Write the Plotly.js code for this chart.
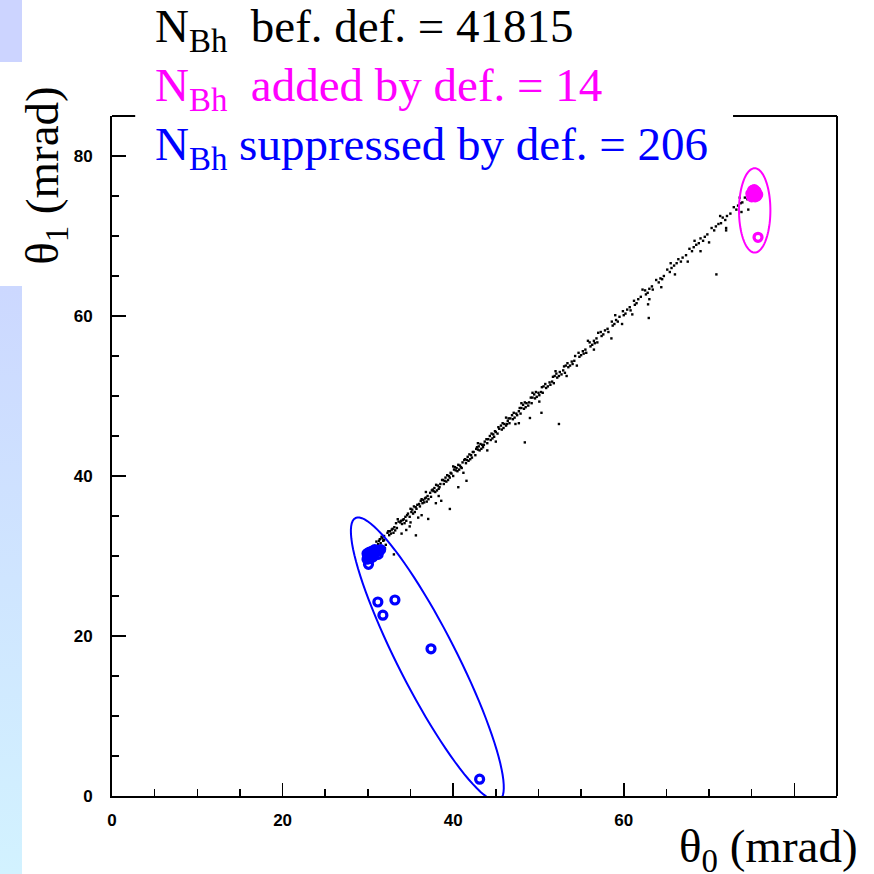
<!DOCTYPE html>
<html>
<head>
<meta charset="utf-8">
<script src="https://cdn.plot.ly/plotly-3.0.1.min.js"></script>
<style>
  html, body { margin: 0; padding: 0; background: #ffffff; }
  #wrap { position: relative; width: 874px; height: 874px; overflow: hidden; }
  .strip-top { position: absolute; left: 0; top: 0; width: 22px; height: 62px; background: #ccd4ff; }
  .strip-main { position: absolute; left: 0; top: 286px; width: 22px; height: 588px;
                background: linear-gradient(to bottom, #ccd8ff, #d2f2ff); }
  #chart { position: absolute; left: 0; top: 0; width: 874px; height: 874px; }
</style>
</head>
<body>
<div id="wrap">
  <div class="strip-top"></div>
  <div class="strip-main"></div>
  <div id="chart"></div>
</div>
<script>
// Events along the theta0 = theta1 band (black dots)
const bandX = [
  31.3,31.5,31.7,31.4,31.8,31.6,31.2,31.9,
  32.6,32.9,33.0,32.7,33.1,32.8,32.5,33.2,32.3,
  33.9,34.2,34.3,34.0,34.4,34.1,33.8,34.5,33.6,34.7,
  35.2,35.5,35.6,35.3,35.7,35.4,35.1,35.8,36.0,
  36.5,36.8,36.9,36.6,37.0,36.7,36.4,37.1,37.3,36.2,
  37.8,38.1,38.2,37.9,38.3,38.0,37.7,38.5,37.5,
  39.1,39.4,39.5,39.2,39.6,39.3,39.0,39.8,38.8,
  40.4,40.7,40.8,40.5,40.9,40.6,40.3,41.1,40.1,
  41.7,42.0,42.1,41.8,42.2,41.9,41.6,42.4,41.4,
  43.0,43.3,43.4,43.1,43.5,43.2,42.9,43.7,42.7,
  44.3,44.6,44.7,44.4,44.8,44.5,44.1,45.0,
  45.6,45.9,46.0,45.7,46.2,45.8,45.4,46.4,
  46.9,47.2,47.4,47.0,47.5,47.1,46.7,
  48.2,48.5,48.6,48.3,48.8,48.4,48.0,
  49.5,49.8,50.0,49.6,50.1,49.7,49.3,
  50.8,51.1,51.3,50.9,51.4,50.6,
  52.1,52.4,52.5,52.2,52.7,51.9,
  53.4,53.7,53.9,53.5,54.0,53.2,
  54.7,55.0,55.2,54.8,55.3,
  56.0,56.3,56.5,56.1,56.6,
  57.3,57.6,57.8,57.4,
  58.6,58.9,59.1,58.7,59.3,
  59.9,60.2,60.4,60.0,
  61.2,61.5,61.7,61.3,
  62.5,62.8,63.0,62.6,
  63.8,64.1,64.3,64.5,
  65.1,65.4,65.6,
  66.4,66.7,66.9,66.2,
  67.7,68.0,68.2,
  69.0,69.3,69.5,68.8,
  70.3,70.6,70.8,
  71.6,71.9,72.1,71.4,
  72.9,73.2,73.4,
  74.2,74.5,73.9,
  31.0,31.9,32.4,33.4,33.3,34.6,34.9,35.0,36.1,36.3,37.4,37.6,38.4,38.7,38.9,39.7,40.0,40.2,41.0,41.3,
  41.5,42.3,42.6,42.8,43.6,43.9,44.0,44.9,45.2,45.3,
  46.3,46.5,46.6,47.7,47.8,47.9,48.9,49.1,49.2,50.3,50.4,50.5,51.6,51.7,51.8,52.9,53.0,53.1,54.2,54.3,
  55.5,55.6,56.8,56.9,
  58.1,58.2,59.5,60.7,60.8,62.0,63.3,63.4,64.7,65.9,67.3,68.5,69.8,71.1,72.5,73.7,
  33.5,35.0,36.8,38.3,40.0,41.2,42.9,44.0,46.2,47.3,49.3,50.1,52.0,53.3,55.8,56.5,59.0,59.8,
  62.2,63.0,65.5,66.0,68.3,69.0,71.3,72.0,73.6,73.8,61.0,64.4,67.5,70.0,57.0,54.5,48.0,45.0,
  33.05,35.63,37.07,39.61,38.6,37.97,35.9,36.3,41.56,40.6,34.5,34.9,33.95,32.0,32.1,
  52.4,48.4,50.35,49.0,47.7,
  62.93,62.85,58.55,
  70.86,74.6,72.0
];
const bandY = [
  31.9,31.6,32.2,32.1,31.9,32.4,31.5,32.5,
  33.1,33.4,32.9,32.8,33.6,33.3,32.6,33.2,32.9,
  34.4,34.6,34.1,34.0,34.9,34.5,34.2,34.4,34.3,35.3,
  35.8,35.5,36.1,35.3,35.9,36.2,35.5,36.4,36.5,
  37.0,37.3,36.8,36.7,37.5,37.2,36.6,37.1,37.9,36.9,
  38.5,38.2,38.8,38.0,38.4,38.9,38.1,39.0,38.2,
  39.8,39.5,40.0,39.3,39.8,40.1,39.4,40.3,39.5,
  41.0,40.8,41.3,40.6,41.1,41.4,40.7,41.7,40.8,
  42.4,42.1,42.6,41.9,42.3,42.7,42.0,43.0,42.1,
  43.7,43.4,43.9,43.2,43.6,44.0,43.3,44.3,43.4,
  45.0,44.7,45.2,44.5,44.9,45.3,44.6,45.5,
  46.3,46.0,46.5,45.8,46.3,46.6,45.9,46.9,
  47.6,47.3,47.8,47.1,47.6,47.9,47.2,
  48.9,48.6,49.1,48.4,48.8,49.2,48.5,
  50.2,49.9,50.4,49.7,50.1,50.5,49.8,
  51.5,51.2,51.7,51.0,51.4,51.2,
  52.8,52.5,53.0,52.3,52.7,52.5,
  54.1,53.8,54.3,53.6,54.0,53.8,
  55.4,55.1,55.6,54.9,55.3,
  56.7,56.4,56.9,56.2,56.6,
  58.0,57.7,58.2,57.5,
  59.3,59.0,59.5,58.8,59.3,
  60.6,60.3,60.8,60.1,
  61.9,61.6,62.1,61.4,
  63.2,62.9,63.4,62.7,
  64.5,64.2,64.7,64.6,
  65.8,65.5,66.0,
  67.1,66.8,67.3,66.6,
  68.4,68.1,68.6,
  69.7,69.4,69.9,69.1,
  71.0,70.7,71.2,
  72.3,72.0,72.5,71.6,
  73.6,73.3,73.8,
  74.8,74.6,74.2,
  31.8,32.0,33.1,33.5,34.1,35.1,34.9,35.9,36.2,37.1,37.4,38.3,38.6,39.5,39.0,40.4,40.0,41.1,41.0,42.0,
  41.6,43.0,42.6,43.6,43.9,44.6,44.1,45.6,45.3,46.1,
  46.5,47.2,46.6,48.1,48.5,47.8,49.2,49.8,49.1,50.5,51.1,50.4,51.8,52.4,51.6,53.2,53.7,52.9,54.4,55.0,
  55.8,55.4,57.2,56.7,
  58.4,58.0,59.9,61.1,60.7,62.4,63.7,63.3,65.0,66.3,67.6,68.9,70.2,71.5,72.8,74.1,
  34.6,34.2,38.0,37.5,41.2,40.4,44.1,43.2,47.3,46.5,50.4,49.3,53.1,52.5,56.9,55.8,60.1,59.0,
  63.3,62.1,66.6,65.2,69.4,68.1,72.5,71.0,74.8,73.0,60.2,63.6,66.8,69.2,57.9,53.8,49.1,44.3,
  30.2,32.58,34.63,35.88,36.9,36.6,34.8,35.1,39.4,38.6,33.25,33.7,32.8,31.0,31.4,
  46.5,44.2,47.9,47.25,46.6,
  59.75,61.46,57.2,
  65.2,73.3,70.7
];

// Events suppressed by the definition (blue open circles)
const suppX = [29.9,30.1,30.2,30.4,30.5,30.3,30.7,30.0,30.6,30.9,31.1,31.3,30.8,29.9,31.5,31.2,30.07,31.17,33.17,31.76,37.4,43.1];
const suppY = [30.3,29.8,30.5,30.1,30.6,29.7,30.3,30.0,29.9,30.5,30.7,30.6,30.8,29.6,30.8,30.2,28.96,24.25,24.5,22.6,18.4,2.1];

// Events added by the definition (magenta open circles)
const addX = [74.9,75.1,75.3,75.5,75.7,75.0,75.2,75.4,75.6,75.3,75.1,75.5,75.74];
const addY = [75.3,75.7,75.8,75.6,75.2,74.9,75.0,74.9,75.0,75.4,75.3,75.5,69.84];

// Axis ticks
const tickVals = [0, 20, 40, 60, 80];
const xTickText = ['0', '20', '40', '60', ''];
const yTickText = ['0', '20', '40', '60', '80'];

// Summary counts
const countLabels = ['bef. def.', 'added by def.', 'suppressed by def.'];
const countValues = [41815, 14, 206];
const countColors = ['#000000', '#ff00ff', '#0000ff'];
const countGaps = ['\u00a0\u00a0', '\u00a0\u00a0', '\u00a0'];

// Selection ellipses: centre and two conjugate semi-axis vectors (data units)
const blueEllipse = { cx: 36.97, cy: 17.1, ax: -8.43, ay: 17.64, bx: 3.05, by: 1.66 };
const pinkEllipse = { cx: 75.35, cy: 73.2, ax: 1.84, ay: 0, bx: 0, by: 5.27 };

function ellipsePath(e) {
  const n = 96;
  let d = '';
  for (let i = 0; i <= n; i++) {
    const t = (i / n) * 2 * Math.PI;
    const x = e.cx + e.ax * Math.cos(t) + e.bx * Math.sin(t);
    const y = e.cy + e.ay * Math.cos(t) + e.by * Math.sin(t);
    d += (i === 0 ? 'M' : 'L') + x.toFixed(3) + ',' + y.toFixed(3);
  }
  return d + 'Z';
}

const traces = [
  {
    type: 'scatter', mode: 'markers', x: bandX, y: bandY,
    marker: { symbol: 'square', size: 2.4, color: '#000000', line: { width: 0 } },
    hoverinfo: 'skip'
  },
  {
    type: 'scatter', mode: 'markers', x: suppX, y: suppY,
    marker: { symbol: 'circle-open', size: 8, color: '#0000ff', line: { width: 3.2, color: '#0000ff' } },
    hoverinfo: 'skip'
  },
  {
    type: 'scatter', mode: 'markers', x: addX, y: addY,
    marker: { symbol: 'circle-open', size: 8, color: '#ff00ff', line: { width: 3.2, color: '#ff00ff' } },
    hoverinfo: 'skip'
  }
];

const tickFont = { family: '"Liberation Sans", Arial, sans-serif', size: 17, color: '#000', weight: 'bold' };
const serif = '"Liberation Serif", "Times New Roman", serif';

const axisCommon = {
  range: [0, 85], showgrid: false, zeroline: false,
  showline: true, linecolor: '#000', linewidth: 2,
  ticks: 'inside', tickwidth: 1.5, tickcolor: '#000',
  tickmode: 'array', tickvals: tickVals, tickfont: tickFont,
  minor: { dtick: 5, ticks: 'inside', ticklen: 7, tickwidth: 1.5, tickcolor: '#000', showgrid: false },
  fixedrange: true
};

const annotations = [];
const lineY = [1.1265, 1.041, 0.953];
for (let i = 0; i < countLabels.length; i++) {
  annotations.push({
    xref: 'paper', yref: 'paper', x: 0.0566, y: lineY[i],
    xanchor: 'left', yanchor: 'middle', showarrow: false, align: 'left',
    text: 'N<sub>Bh</sub>' + countGaps[i] + countLabels[i] + ' = ' + countValues[i],
    font: { family: serif, size: 47, color: countColors[i] }
  });
}
annotations.push({
  xref: 'paper', yref: 'paper', x: -0.091, y: 0.912,
  xanchor: 'center', yanchor: 'middle', showarrow: false, textangle: -90,
  text: '\u03b8<sub>1</sub> (mrad)',
  font: { family: serif, size: 47, color: '#000' }
});
annotations.push({
  xref: 'paper', yref: 'paper', x: 1.0317, y: -0.0794,
  xanchor: 'right', yanchor: 'middle', showarrow: false,
  text: '\u03b8<sub>0</sub> (mrad)',
  font: { family: serif, size: 47, color: '#000' }
});

const shapes = [
  { type: 'path', xref: 'x', yref: 'y', path: ellipsePath(blueEllipse), line: { color: '#0000ff', width: 2 } },
  { type: 'path', xref: 'x', yref: 'y', path: ellipsePath(pinkEllipse), line: { color: '#ff00ff', width: 2 } },
  // frame: right edge and the two visible pieces of the top edge
  { type: 'line', xref: 'paper', yref: 'paper', x0: 1, x1: 1, y0: 0, y1: 1, line: { color: '#000', width: 2 } },
  { type: 'line', xref: 'paper', yref: 'paper', x0: 0, x1: 0.032, y0: 1, y1: 1, line: { color: '#000', width: 2 } },
  { type: 'line', xref: 'paper', yref: 'paper', x0: 0.8566, x1: 1, y0: 1, y1: 1, line: { color: '#000', width: 2 } }
];

const layout = {
  width: 874, height: 874,
  margin: { l: 112, r: 37, t: 116, b: 78, pad: 0 },
  paper_bgcolor: 'rgba(0,0,0,0)',
  plot_bgcolor: '#ffffff',
  showlegend: false,
  xaxis: Object.assign({}, axisCommon, { ticktext: xTickText, ticklen: 13, ticklabelstandoff: 8 }),
  yaxis: Object.assign({}, axisCommon, { ticktext: yTickText, ticklen: 14, ticklabelstandoff: 14 }),
  annotations: annotations,
  shapes: shapes
};

Plotly.newPlot('chart', traces, layout, { displayModeBar: false, staticPlot: true });
</script>
</body>
</html>
